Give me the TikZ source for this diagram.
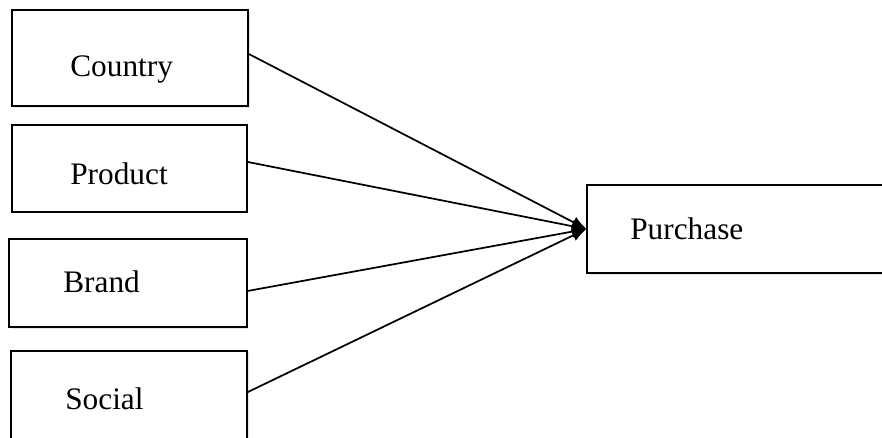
\documentclass[tikz,border=0pt]{standalone}
\usepackage{fontspec}
\setmainfont{Liberation Serif}
\usetikzlibrary{arrows.meta,shadows}

\begin{document}
\begin{tikzpicture}[x=0.75pt,y=-0.75pt,
  factor/.style={draw, line width=1.3pt, fill=white, rectangle, inner sep=0pt,
    drop shadow={shadow xshift=1.2pt, shadow yshift=-1.2pt, opacity=0.18}},
  lbl/.style={anchor=base west, inner sep=0pt, font=\fontsize{23.5}{27}\selectfont},
  link/.style={line width=1.3pt, -{Latex[length=11pt, width=9pt]}}]
\path[use as bounding box, clip] (0,0) rectangle (882,438);
% the boxes, centres and sizes
\node[factor, minimum width=177pt, minimum height=72pt] (country) at (130,58) {};
\node[factor, minimum width=176pt, minimum height=65pt] (product) at (129.5,168.5) {};
\node[factor, minimum width=178pt, minimum height=66pt] (brand) at (128,283) {};
\node[factor, minimum width=177pt, minimum height=67pt] (social) at (129,395.5) {};
\node[factor, minimum width=238pt, minimum height=66pt] (purchase) at (746,229) {};
% the texts sit left of centre, so they are put in by hand
\node[lbl] (countrytext) at (70,77) {Country};
\node[lbl] (producttext) at (70,185) {Product};
\node[lbl] (brandtext) at (63,293) {Brand};
\node[lbl] (socialtext) at (65,409) {Social};
\node[lbl] (purchasetext) at (630,240) {Purchase};
% every factor points into the purchase box (lines leave a bit off the middle)
\foreach \f/\dy in {country/3pt,product/4.9pt,brand/-6pt,social/2.6pt}
  \draw[link] ([yshift=\dy]\f.east) -- (purchase.west);
\end{tikzpicture}
\end{document}
